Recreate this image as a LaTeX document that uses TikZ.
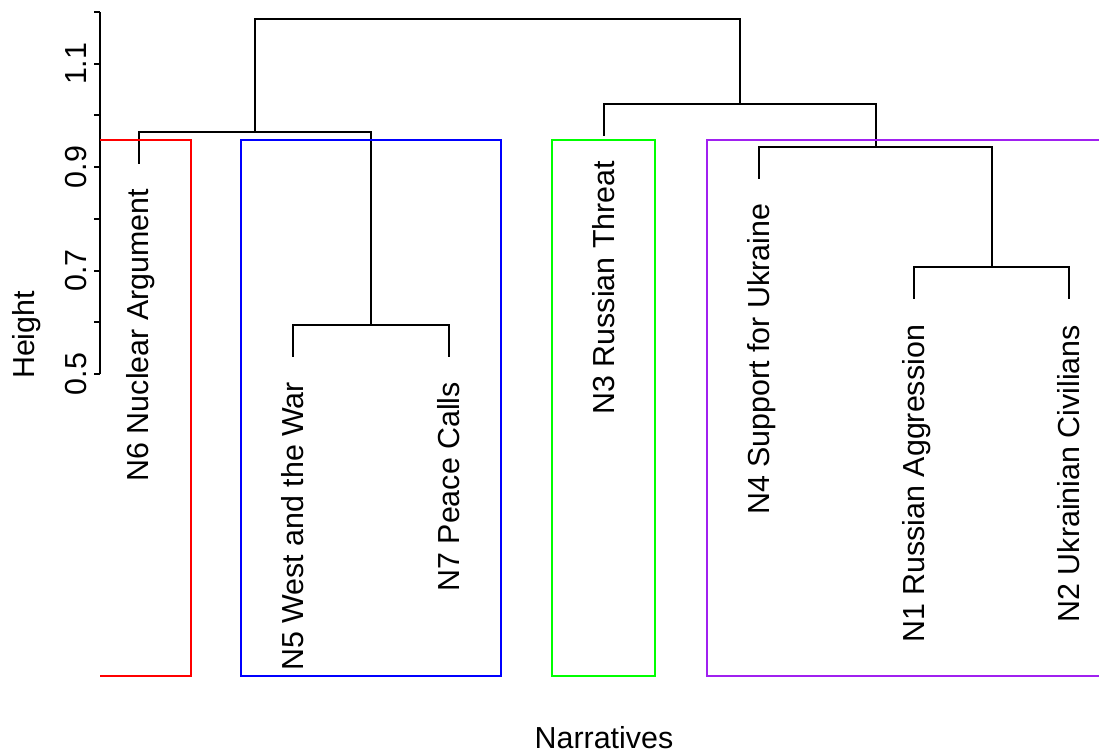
\documentclass[tikz,border=0pt]{standalone}
\usepackage{fontspec}
\setmainfont{Liberation Sans}
\begin{document}
\begin{tikzpicture}[x=0.5pt,y=-0.5pt,
  txt/.style={font=\fontsize{15.2}{18}\selectfont, inner sep=0pt, outer sep=0pt},
  leaflab/.style={txt, rotate=90, anchor=base east},
  ticklab/.style={txt, rotate=90, anchor=base},
  dend/.style={black, line width=1pt, line cap=rect},
  axisline/.style={black, line width=1pt},
  clbox/.style={line width=1pt}]
\useasboundingbox (0,0) rectangle (1099,753);
\definecolor{rpurple}{RGB}{160,32,240}
\definecolor{rgreen}{RGB}{0,255,0}

% y axis
\coordinate (ax0) at (100,374);
\coordinate (ax1) at (100,12.1);
\draw[axisline] (ax0) -- (ax1);
\foreach \y in {374,322.3,270.6,218.9,167.2,115.5,63.8,12.1}
  \draw[axisline] (100,\y) -- (93.5,\y);
\node[ticklab] (t05) at (86,374) {0.5};
\node[ticklab] (t07) at (86,270.6) {0.7};
\node[ticklab] (t09) at (86,167.2) {0.9};
\node[ticklab] (t11) at (86,63.8) {1.1};
\node[txt, rotate=90, anchor=base] (ylab) at (34,335) {Height};
\node[txt, anchor=base] (xlab) at (604,748) {Narratives};

% leaf tips
\coordinate (l6) at (138.8,163);
\coordinate (l5) at (293.3,356);
\coordinate (l7) at (449,356);
\coordinate (l3) at (604.3,135);
\coordinate (l4) at (759.3,178);
\coordinate (l1) at (914.3,298.5);
\coordinate (l2) at (1069.3,298.5);

% merges
\coordinate (m57) at (371.2,325);
\coordinate (m12) at (991.8,267.5);
\coordinate (m412) at (875.6,147.5);
\coordinate (mL) at (255.2,132.3);
\coordinate (mR) at (739.9,104);
\coordinate (mT) at (497.6,19);

\draw[dend] (l5) |- (m57) -| (l7);
\draw[dend] (l1) |- (m12) -| (l2);
\draw[dend] (l4) |- (m412) -| (m12);
\draw[dend] (l6) |- (mL) -| (m57);
\draw[dend] (l3) |- (mR) -| (m412);
\draw[dend] (mL) |- (mT) -| (mR);

% leaf labels (baseline 10 units right of the leaf)
\node[leaflab] (n6) at ([xshift=5pt] l6 |- 0,189) {N6 Nuclear Argument};
\node[leaflab] (n5) at ([xshift=5pt] l5 |- 0,382) {N5 West and the War};
\node[leaflab] (n7) at ([xshift=5pt] l7 |- 0,382) {N7 Peace Calls};
\node[leaflab] (n3) at ([xshift=5pt] l3 |- 0,161) {N3 Russian Threat};
\node[leaflab] (n4) at ([xshift=5pt] l4 |- 0,204) {N4 Support for Ukraine};
\node[leaflab] (n1) at ([xshift=5pt] l1 |- 0,325) {N1 Russian Aggression};
\node[leaflab] (n2) at ([xshift=5pt] l2 |- 0,325) {N2 Ukrainian Civilians};

% cluster boxes
\draw[clbox, red] (100,140) -- (190.5,140) -- (190.5,676) -- (100,676);
\draw[clbox, blue] (241,140) rectangle (500.5,676);
\draw[clbox, rgreen] (552,140) rectangle (655,676);
\draw[clbox, rpurple] (1100,140) -- (707,140) -- (707,676) -- (1100,676);
\end{tikzpicture}
\end{document}
